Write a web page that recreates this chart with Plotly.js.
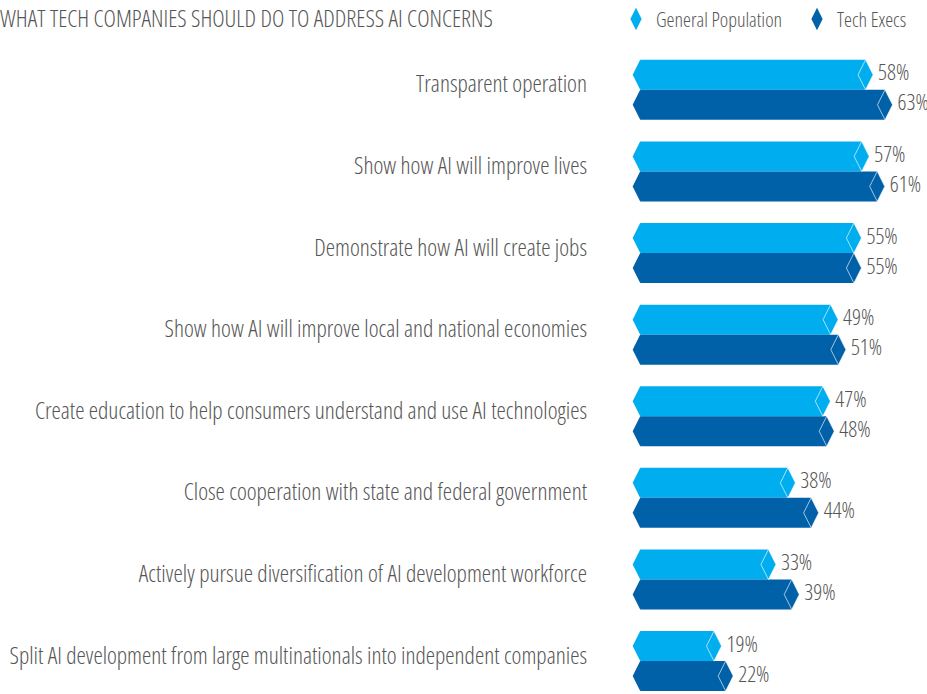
<!DOCTYPE html>
<html><head><meta charset="utf-8">
<script src="https://cdn.plot.ly/plotly-3.0.1.min.js"></script>
<style>html,body{margin:0;padding:0;background:#fff}#chart{width:927px;height:694px}
text{font-stretch:75% !important}</style>
</head><body><div id="chart"></div>
<script>
const chartTitle = "WHAT TECH COMPANIES SHOULD DO TO ADDRESS AI CONCERNS";
const categories = [
  "Transparent operation",
  "Show how AI will improve lives",
  "Demonstrate how AI will create jobs",
  "Show how AI will improve local and national economies",
  "Create education to help consumers understand and use AI technologies",
  "Close cooperation with state and federal government",
  "Actively pursue diversification of AI development workforce",
  "Split AI development from large multinationals into independent companies"
];
const seriesNames = ["General Population", "Tech Execs"];
const generalPopulation = [58, 57, 55, 49, 47, 38, 33, 19];
const techExecs = [63, 61, 55, 51, 48, 44, 39, 22];

const LIGHT = "#00AEEF", DARK = "#0061A9", TEXT = "#555555";
const FONT = "'Open Sans', sans-serif";
const W = 300;
const HALF = 0.1838, BARW = 0.3676;
const idx = categories.map((c, i) => i);
const yGP = idx.map(i => i - HALF);
const yTE = idx.map(i => i + HALF);
const pct = a => a.map(v => v + "%");

function series(vals, ys, color, name, legendId) {
  return [
    {type: "bar", orientation: "h", x: vals, y: ys, width: BARW, marker: {color: color, line: {width: 0}},
     showlegend: false, hoverinfo: "skip"},
    {type: "scatter", mode: "markers", x: vals.map(() => 0), y: ys, cliponaxis: false,
     marker: {symbol: "diamond-tall", size: 21.5, color: color, line: {width: 0}}, showlegend: false, hoverinfo: "skip"},
    {type: "scatter", mode: "markers", x: vals, y: ys, cliponaxis: false,
     marker: {symbol: "diamond-tall", size: 21.5, color: color, line: {width: 0.8, color: "rgba(255,255,255,0.8)"}},
     showlegend: false, hoverinfo: "skip"},
    {type: "scatter", mode: "markers+text", x: vals, y: ys, cliponaxis: false, text: pct(vals),
     textposition: "middle right", textfont: {family: FONT, size: 22, color: TEXT, weight: W},
     marker: {size: 18.4, opacity: 0}, showlegend: false, hoverinfo: "skip"},
    {type: "scatter", mode: "markers", x: [null], y: [null], name: name, legend: legendId,
     marker: {symbol: "diamond-tall", size: 16, color: color}, showlegend: true}
  ];
}

const data = [].concat(series(generalPopulation, yGP, LIGHT, seriesNames[0], "legend"),
                       series(techExecs, yTE, DARK, seriesNames[1], "legend2"));

const legendBase = {orientation: "h", xref: "container", yref: "container", y: 1 - 19/694, xanchor: "left", yanchor: "middle",
                    font: {family: FONT, size: 20, color: TEXT, weight: W}, itemwidth: 30, bgcolor: "rgba(0,0,0,0)"};

const layout = {
  width: 927, height: 694,
  margin: {l: 640, r: 0, t: 48, b: 0, autoexpand: false},
  paper_bgcolor: "#fff", plot_bgcolor: "#fff",
  barmode: "overlay", hovermode: false,
  font: {family: FONT, color: TEXT, size: 22, weight: W},
  title: {text: chartTitle, x: 0, xref: "container", xanchor: "left", y: 1 - 19/694, yref: "container", yanchor: "middle",
          font: {family: FONT, size: 23.5, color: TEXT, weight: W}},
  xaxis: {range: [-0.2/3.886, 287/3.886 - 0.051], visible: false, fixedrange: true},
  yaxis: {range: [(694 - 89.8)/81.61, (48 - 89.8)/81.61], tickmode: "array", tickvals: idx.map(i => i - 0.07), ticktext: categories,
          showgrid: false, zeroline: false, showline: false, ticks: "", ticklabelstandoff: 52,
          tickfont: {family: FONT, size: 23.5, color: TEXT, weight: W}, fixedrange: true},
  legend: Object.assign({}, legendBase, {x: 616/927}),
  legend2: Object.assign({}, legendBase, {x: 797/927})
};

Plotly.newPlot("chart", data, layout, {displayModeBar: false, staticPlot: true});
</script></body></html>
